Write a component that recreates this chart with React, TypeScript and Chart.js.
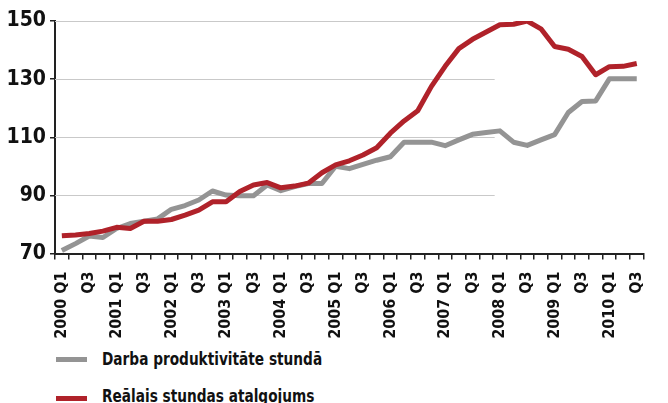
import React, { useEffect, useRef } from 'react';
import { Chart, registerables } from 'chart.js';

Chart.register(...registerables);

const categories = [
  '2000 Q1', '2000 Q2', '2000 Q3', '2000 Q4',
  '2001 Q1', '2001 Q2', '2001 Q3', '2001 Q4',
  '2002 Q1', '2002 Q2', '2002 Q3', '2002 Q4',
  '2003 Q1', '2003 Q2', '2003 Q3', '2003 Q4',
  '2004 Q1', '2004 Q2', '2004 Q3', '2004 Q4',
  '2005 Q1', '2005 Q2', '2005 Q3', '2005 Q4',
  '2006 Q1', '2006 Q2', '2006 Q3', '2006 Q4',
  '2007 Q1', '2007 Q2', '2007 Q3', '2007 Q4',
  '2008 Q1', '2008 Q2', '2008 Q3', '2008 Q4',
  '2009 Q1', '2009 Q2', '2009 Q3', '2009 Q4',
  '2010 Q1', '2010 Q2', '2010 Q3',
];

const productivity = [
  71.0, 73.4, 76.0, 75.5, 78.6, 80.3, 81.1, 81.9,
  85.2, 86.5, 88.4, 91.5, 90.1, 89.9, 89.9, 93.6,
  91.6, 93.0, 94.1, 94.1, 100.0, 99.2, 100.7, 102.1,
  103.3, 108.3, 108.3, 108.3, 107.1, 109.1, 111.0, 111.6,
  112.2, 108.3, 107.2, 109.1, 110.9, 118.5, 122.3, 122.5,
  130.1, 130.1, 130.1,
];

const realWage = [
  76.1, 76.4, 76.9, 77.7, 79.0, 78.6, 81.1, 81.1,
  81.7, 83.2, 84.9, 87.8, 87.8, 91.3, 93.6, 94.4,
  92.6, 93.2, 94.2, 97.8, 100.5, 101.9, 103.9, 106.4,
  111.4, 115.6, 119.1, 127.5, 134.4, 140.5, 143.7, 146.2,
  148.7, 148.9, 150.0, 147.3, 141.2, 140.3, 137.8, 131.5,
  134.3, 134.4, 135.4,
];

const seriesLabels = ['Darba produktivitāte stundā', 'Reālais stundas atalgojums'];
const seriesColors = ['#949494', '#b0222a'];

const Y_MIN = 70;
const Y_MAX = 150;
const Y_STEP = 20;

const GRID_END = 0.747;
const FONT = "'DejaVu Sans Condensed', 'Liberation Sans Narrow', 'Arial Narrow', sans-serif";

const partialGrid = {
  id: 'partialGrid',
  beforeDatasetsDraw(chart: any) {
    const { ctx, chartArea, scales } = chart;
    const y = scales.y;
    const xEnd = chartArea.left + (chartArea.right - chartArea.left) * GRID_END;
    ctx.save();
    ctx.strokeStyle = '#c9c9c9';
    ctx.lineWidth = 1;
    y.ticks.forEach((t: any) => {
      if (t.value === y.min) return;
      const py = Math.round(y.getPixelForValue(t.value)) + 0.5;
      ctx.beginPath();
      ctx.moveTo(chartArea.left, py);
      ctx.lineTo(xEnd, py);
      ctx.stroke();
    });
    ctx.restore();
  },
};

export default function App() {
  const ref = useRef<HTMLCanvasElement | null>(null);

  useEffect(() => {
    if (!ref.current) return;
    const chart = new Chart(ref.current, {
      type: 'line',
      data: {
        labels: categories,
        datasets: [
          {
            label: seriesLabels[0],
            data: productivity,
            borderColor: seriesColors[0],
            backgroundColor: seriesColors[0],
            borderWidth: 5,
            pointRadius: 0,
            tension: 0,
            borderJoinStyle: 'round',
            order: 1,
          },
          {
            label: seriesLabels[1],
            data: realWage,
            borderColor: seriesColors[1],
            backgroundColor: seriesColors[1],
            borderWidth: 5,
            pointRadius: 0,
            tension: 0,
            borderJoinStyle: 'round',
            order: 0,
          },
        ],
      },
      options: {
        animation: false,
        responsive: false,
        maintainAspectRatio: false,
        layout: { padding: { top: 21, right: 4, left: 0, bottom: 0 } },
        plugins: {
          legend: { display: false },
          tooltip: { enabled: false },
        },
        scales: {
          x: {
            type: 'category',
            offset: true,
            grid: {
              display: true,
              drawOnChartArea: false,
              drawTicks: true,
              tickLength: 6,
              color: '#222',
              lineWidth: 1.5,
              offset: true,
            },
            border: { display: true, color: '#222', width: 2 },
            ticks: {
              autoSkip: false,
              maxRotation: 90,
              minRotation: 90,
              padding: 12,
              color: '#111',
              font: { family: FONT, size: 16, weight: 'bold' },
              callback: (_v: any, i: number) => {
                const lab = categories[i];
                if (i % 4 === 0) return lab;
                if (i % 4 === 2) return lab.split(' ')[1];
                return '';
              },
            },
            afterFit: (s: any) => {
              s.height = 86.5;
            },
          },
          y: {
            min: Y_MIN,
            max: Y_MAX,
            ticks: {
              stepSize: Y_STEP,
              padding: 4,
              color: '#111',
              font: { family: FONT, size: 21, weight: 'bold' },
            },
            grid: {
              drawOnChartArea: false,
              drawTicks: true,
              tickLength: 5,
              color: '#222',
              lineWidth: 1.5,
            },
            border: { display: true, color: '#222', width: 2 },
            afterFit: (s: any) => {
              s.width = 55;
            },
          },
        },
      },
      plugins: [partialGrid],
    } as any);
    return () => chart.destroy();
  }, []);

  const legendText: React.CSSProperties = {
    position: 'absolute',
    left: 102,
    fontFamily: FONT,
    fontWeight: 'bold',
    fontSize: 18,
    lineHeight: '20px',
    color: '#111',
    whiteSpace: 'nowrap',
    transform: 'scaleX(0.845)',
    transformOrigin: '0 50%',
  };

  return (
    <div style={{ position: 'fixed', left: 0, top: 0, width: 668, height: 403, background: '#fff', overflow: 'hidden' }}>
      <canvas ref={ref} width={668} height={340} style={{ position: 'absolute', left: 0, top: 0, width: 668, height: 340 }} />
      <div style={{ position: 'absolute', left: 56, top: 357, width: 31, height: 5, background: seriesColors[0] }} />
      <div style={{ ...legendText, top: 349 }}>{seriesLabels[0]}</div>
      <div style={{ position: 'absolute', left: 56, top: 396, width: 31, height: 5, background: seriesColors[1] }} />
      <div style={{ ...legendText, top: 386 }}>{seriesLabels[1]}</div>
    </div>
  );
}
